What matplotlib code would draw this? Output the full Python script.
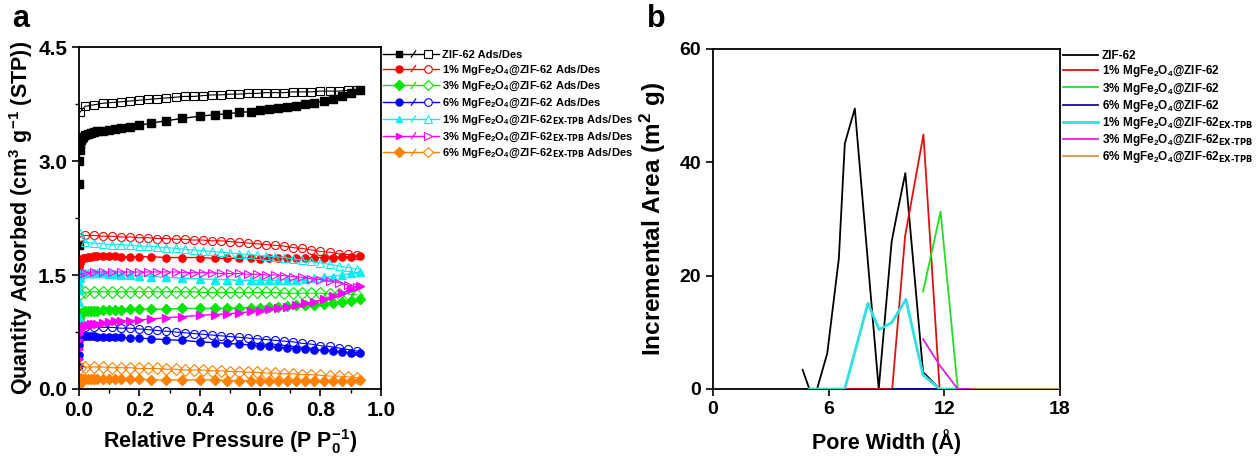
import matplotlib
matplotlib.use('Agg')
import matplotlib.pyplot as plt
from matplotlib.lines import Line2D
from matplotlib.legend_handler import HandlerBase
from matplotlib.ticker import MultipleLocator

plt.rcParams['font.family'] = 'Liberation Sans'
plt.rcParams['font.weight'] = 'bold'
plt.rcParams['mathtext.default'] = 'regular'

# N2 isotherms: relative pressure grids for adsorption and desorption branches
p_ads = [0.0001, 0.0003, 0.0006, 0.001, 0.002, 0.004, 0.007, 0.01, 0.015, 0.02,
         0.03, 0.04, 0.05, 0.06, 0.08, 0.10, 0.12, 0.14, 0.17, 0.20,
         0.24, 0.29, 0.34, 0.40, 0.45, 0.49, 0.53, 0.57, 0.60, 0.63,
         0.66, 0.69, 0.72, 0.75, 0.78, 0.81, 0.84, 0.87, 0.90, 0.93]
p_des = [0.92, 0.89, 0.86, 0.83, 0.80, 0.77, 0.74, 0.71, 0.68, 0.65,
         0.62, 0.59, 0.56, 0.53, 0.50, 0.47, 0.44, 0.41, 0.38, 0.35,
         0.32, 0.29, 0.26, 0.23, 0.20, 0.17, 0.14, 0.11, 0.08, 0.05,
         0.02, 0.003]

zif_ads = [0.8, 1.9, 2.7, 3.0, 3.15, 3.22, 3.27, 3.30, 3.32, 3.34,
           3.36, 3.37, 3.38, 3.39, 3.40, 3.41, 3.42, 3.43, 3.45, 3.47,
           3.50, 3.53, 3.56, 3.59, 3.61, 3.62, 3.64, 3.65, 3.67, 3.68,
           3.70, 3.71, 3.73, 3.75, 3.77, 3.79, 3.82, 3.85, 3.89, 3.94]
zif_des = [3.93, 3.93, 3.92, 3.92, 3.92, 3.91, 3.91, 3.91, 3.90, 3.90,
           3.90, 3.89, 3.89, 3.88, 3.88, 3.87, 3.87, 3.86, 3.85, 3.85,
           3.84, 3.83, 3.82, 3.81, 3.80, 3.79, 3.78, 3.77, 3.76, 3.74,
           3.72, 3.64]

mg1_ads = [1.45, 1.55, 1.60, 1.63, 1.66, 1.68, 1.70, 1.71, 1.72, 1.73,
           1.74, 1.74, 1.75, 1.75, 1.75, 1.75, 1.75, 1.74, 1.74, 1.74,
           1.74, 1.73, 1.73, 1.73, 1.72, 1.72, 1.72, 1.72, 1.71, 1.72,
           1.72, 1.72, 1.72, 1.72, 1.73, 1.73, 1.73, 1.74, 1.74, 1.75]
mg1_des = [1.76, 1.77, 1.78, 1.80, 1.81, 1.83, 1.85, 1.86, 1.88, 1.89,
           1.90, 1.91, 1.92, 1.93, 1.94, 1.95, 1.95, 1.96, 1.96, 1.97,
           1.97, 1.98, 1.98, 1.99, 1.99, 2.00, 2.00, 2.01, 2.01, 2.02,
           2.02, 2.00]

mg3_ads = [0.85, 0.92, 0.95, 0.97, 0.98, 0.99, 1.00, 1.00, 1.01, 1.02,
           1.02, 1.03, 1.03, 1.03, 1.04, 1.04, 1.04, 1.04, 1.05, 1.05,
           1.05, 1.05, 1.06, 1.06, 1.06, 1.06, 1.07, 1.07, 1.07, 1.08,
           1.08, 1.09, 1.10, 1.10, 1.11, 1.12, 1.13, 1.15, 1.16, 1.18]
mg3_des = [1.24, 1.25, 1.25, 1.25, 1.26, 1.26, 1.26, 1.26, 1.26, 1.27,
           1.27, 1.27, 1.27, 1.27, 1.27, 1.27, 1.27, 1.27, 1.28, 1.28,
           1.28, 1.28, 1.28, 1.28, 1.28, 1.28, 1.28, 1.28, 1.28, 1.28,
           1.27, 1.25]

mg6_ads = [0.30, 0.45, 0.58, 0.64, 0.67, 0.68, 0.69, 0.70, 0.70, 0.70,
           0.70, 0.70, 0.70, 0.69, 0.69, 0.69, 0.68, 0.68, 0.67, 0.67,
           0.66, 0.65, 0.64, 0.62, 0.61, 0.60, 0.59, 0.58, 0.57, 0.56,
           0.55, 0.54, 0.53, 0.52, 0.51, 0.51, 0.50, 0.49, 0.48, 0.47]
mg6_des = [0.50, 0.52, 0.54, 0.56, 0.57, 0.59, 0.60, 0.62, 0.63, 0.64,
           0.65, 0.66, 0.67, 0.68, 0.69, 0.70, 0.71, 0.72, 0.73, 0.74,
           0.75, 0.76, 0.77, 0.78, 0.79, 0.80, 0.80, 0.81, 0.81, 0.82,
           0.82, 0.78]

ex1_ads = [0.95, 1.15, 1.30, 1.40, 1.46, 1.50, 1.52, 1.53, 1.53, 1.53,
           1.53, 1.53, 1.52, 1.52, 1.52, 1.51, 1.51, 1.50, 1.50, 1.49,
           1.48, 1.47, 1.46, 1.45, 1.44, 1.44, 1.43, 1.43, 1.43, 1.43,
           1.43, 1.44, 1.44, 1.45, 1.46, 1.47, 1.48, 1.50, 1.52, 1.54]
ex1_des = [1.58, 1.60, 1.62, 1.64, 1.66, 1.68, 1.70, 1.71, 1.73, 1.74,
           1.75, 1.76, 1.77, 1.78, 1.79, 1.80, 1.81, 1.82, 1.83, 1.84,
           1.85, 1.86, 1.87, 1.88, 1.88, 1.89, 1.90, 1.90, 1.91, 1.92,
           1.93, 2.05]

ex3_ads = [0.40, 0.52, 0.65, 0.72, 0.76, 0.78, 0.80, 0.81, 0.82, 0.83,
           0.84, 0.85, 0.86, 0.86, 0.87, 0.88, 0.89, 0.89, 0.90, 0.91,
           0.92, 0.94, 0.95, 0.97, 0.98, 0.99, 1.00, 1.02, 1.03, 1.05,
           1.06, 1.08, 1.10, 1.13, 1.15, 1.18, 1.22, 1.26, 1.31, 1.36]
ex3_des = [1.34, 1.37, 1.40, 1.42, 1.44, 1.45, 1.47, 1.48, 1.49, 1.50,
           1.50, 1.51, 1.51, 1.52, 1.52, 1.52, 1.53, 1.53, 1.53, 1.53,
           1.54, 1.54, 1.54, 1.54, 1.54, 1.54, 1.54, 1.54, 1.54, 1.54,
           1.53, 1.50]

ex6_ads = [0.05, 0.08, 0.10, 0.11, 0.12, 0.12, 0.13, 0.13, 0.13, 0.13,
           0.13, 0.13, 0.13, 0.13, 0.13, 0.13, 0.13, 0.13, 0.13, 0.13,
           0.12, 0.12, 0.12, 0.12, 0.12, 0.11, 0.11, 0.11, 0.11, 0.11,
           0.10, 0.10, 0.10, 0.10, 0.10, 0.10, 0.10, 0.11, 0.11, 0.12]
ex6_des = [0.15, 0.16, 0.17, 0.17, 0.18, 0.19, 0.19, 0.20, 0.20, 0.21,
           0.21, 0.22, 0.22, 0.23, 0.23, 0.24, 0.24, 0.25, 0.25, 0.25,
           0.26, 0.26, 0.27, 0.27, 0.27, 0.28, 0.28, 0.28, 0.29, 0.29,
           0.29, 0.27]

# DFT pore size distributions
zif_w = [4.65, 5.0, 5.4, 5.93, 6.53, 6.84, 7.36, 8.6, 9.27, 9.52, 9.98, 10.9, 11.76]
zif_a = [3.4, 0, 0, 6.3, 23.0, 43.3, 49.5, 0, 26.0, 30.4, 38.1, 3.0, 0]
mg1_w = [6.84, 9.3, 9.97, 10.92, 11.76]
mg1_a = [0, 0, 27.0, 44.9, 0]
mg3_w = [10.9, 11.81, 12.7]
mg3_a = [17.2, 31.3, 0]
mg6_w = [9.3, 11.76]
mg6_a = [0, 0]
ex1_w = [5.0, 6.84, 8.04, 8.62, 9.27, 10.01, 10.9, 11.76, 12.7]
ex1_a = [0, 0, 15.1, 10.5, 11.7, 15.8, 2.5, 0, 0]
ex3_w = [10.9, 11.76, 12.7, 13.4]
ex3_a = [8.8, 4.2, 0, 0]
ex6_w = [13.4, 18.0]
ex6_a = [0, 0]

mg = r'MgFe$_2$O$_4$@ZIF-62'
ex = r'$_{\text{EX-TPB}}$'
names = ['ZIF-62', '1% ' + mg, '3% ' + mg, '6% ' + mg,
         '1% ' + mg + ex, '3% ' + mg + ex, '6% ' + mg + ex]
colors_a = ['black', '#ff0000', '#00e600', '#0000ff', '#00f0f0', '#ff00ff', '#ff8000']
colors_b = ['black', '#e01010', '#20e020', '#101090', '#30e0e0', '#e020e0', '#d8944a']
markers = ['s', 'o', 'D', 'o', '^', '>', 'D']
ads = [zif_ads, mg1_ads, mg3_ads, mg6_ads, ex1_ads, ex3_ads, ex6_ads]
des = [zif_des, mg1_des, mg3_des, mg6_des, ex1_des, ex3_des, ex6_des]
pw = [zif_w, mg1_w, mg3_w, mg6_w, ex1_w, ex3_w, ex6_w]
pa = [zif_a, mg1_a, mg3_a, mg6_a, ex1_a, ex3_a, ex6_a]


class AdsDesHandler(HandlerBase):
    # filled marker -/- open marker, Origin style
    def create_artists(self, legend, orig_handle, xdescent, ydescent,
                       width, height, fontsize, trans):
        c, m = orig_handle
        y = height / 2 - ydescent
        x0 = -xdescent
        line = Line2D([x0, x0 + width], [y, y], color=c, lw=1.0)
        slash = Line2D([x0 + 0.50 * width, x0 + 0.58 * width],
                       [y - 0.4 * height, y + 0.4 * height], color=c, lw=0.9)
        full = Line2D([x0 + 0.28 * width], [y], marker=m, ms=5, color=c, mfc=c, mec=c)
        empty = Line2D([x0 + 0.80 * width], [y], marker=m, ms=5.5, color=c,
                       mfc='white', mec=c, mew=0.8)
        arts = [line, slash, full, empty]
        for a in arts:
            a.set_transform(trans)
        return arts


fig = plt.figure(figsize=(12.57, 4.57), dpi=100)
ax1 = fig.add_axes([0.0628, 0.1488, 0.2402, 0.7483])
ax2 = fig.add_axes([0.5672, 0.1488, 0.2760, 0.7440])

for i in range(7):
    c = colors_a[i]
    ax1.plot(p_ads, ads[i], marker=markers[i], color=c, ms=5.2, lw=1.0, mec=c)
    ax1.plot(p_des, des[i], marker=markers[i], color=c, ms=5.8, lw=0.8,
             mfc='none', mec=c, mew=0.8)

ax1.set_xlim(0, 1.0)
ax1.set_ylim(0, 4.5)
ax1.xaxis.set_major_locator(MultipleLocator(0.2))
ax1.xaxis.set_minor_locator(MultipleLocator(0.1))
ax1.yaxis.set_major_locator(MultipleLocator(1.5))
ax1.yaxis.set_minor_locator(MultipleLocator(0.75))
ax1.set_xlabel(r'Relative Pressure (P P$_0^{-1}$)', fontsize=15.5, fontweight='bold', labelpad=5)
ax1.set_ylabel(r'Quantity Adsorbed (cm$^3$ g$^{-1}$ (STP))', fontsize=15.5, fontweight='bold', labelpad=2)

leg_handles = [(colors_a[i], markers[i]) for i in range(7)]
ax1.legend(leg_handles, [n + ' Ads/Des' for n in names],
           handler_map={tuple: AdsDesHandler()}, loc='upper left',
           bbox_to_anchor=(1.005, 0.995), frameon=False, fontsize=8,
           handlelength=5.0, handletextpad=0.25, labelspacing=0.32, borderpad=0.1,
           borderaxespad=0)

for i in range(7):
    ax2.plot(pw[i], pa[i], color=colors_b[i], lw=2.0 if i == 4 else 1.3,
             zorder=3, label=names[i])

ax2.set_xlim(0, 18)
ax2.set_ylim(0, 60)
ax2.set_xticks([0, 6, 12, 18])
ax2.set_yticks([0, 20, 40, 60])
ax2.set_xlabel('Pore Width (Å)', fontsize=15.5, fontweight='bold', labelpad=8)
ax2.set_ylabel(r'Incremental Area (m$^2$ g)', fontsize=17.5, fontweight='bold', labelpad=8)
ax2.legend(loc='upper left', bbox_to_anchor=(1.005, 1.0), frameon=False, fontsize=8.5,
           handlelength=3.0, handletextpad=0.3, labelspacing=0.1, borderpad=0.1,
           borderaxespad=0)

for ax, ls in ((ax1, 15), (ax2, 14)):
    for s in ax.spines.values():
        s.set_linewidth(1.3)
    ax.tick_params(which='major', direction='out', length=5, width=1.2, labelsize=ls)
    ax.tick_params(which='minor', direction='out', length=3, width=1.0)
    for lab in ax.get_xticklabels() + ax.get_yticklabels():
        lab.set_fontweight('bold')

fig.text(0.010, 0.94, 'a', fontsize=22, fontweight='bold')
fig.text(0.515, 0.94, 'b', fontsize=22, fontweight='bold')

fig.savefig('out.png', dpi=100)
